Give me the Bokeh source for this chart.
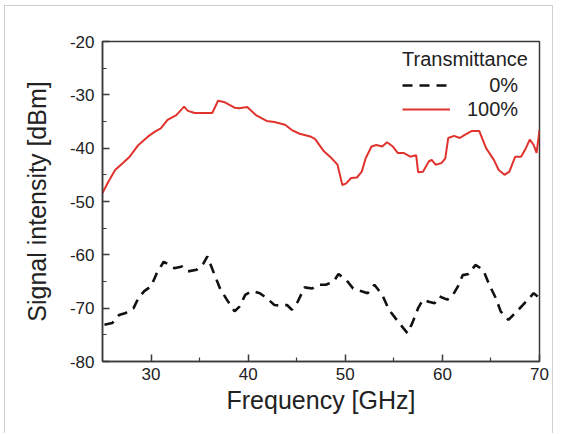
from bokeh.plotting import figure
from bokeh.models import Range1d, FixedTicker, Legend, LegendItem, PrintfTickFormatter
from bokeh.embed import file_html
from bokeh.resources import INLINE

# 100% transmittance (red, solid)
freq_100 = [25.0, 25.6, 26.3, 27.1, 27.8, 28.7, 29.7, 30.4, 31.0, 31.7, 32.6, 33.4, 33.8,
            34.5, 35.2, 36.3, 36.9, 37.6, 38.6, 39.1, 39.9, 40.8, 41.9, 42.7, 43.8, 44.5,
            45.3, 46.4, 46.9, 47.8, 48.6, 49.2, 49.7, 50.1, 50.6, 51.2, 51.7, 52.1, 52.7,
            53.2, 53.8, 54.3, 54.9, 55.4, 56.0, 56.7, 57.3, 57.5, 58.0, 58.6, 58.9, 59.3,
            59.9, 60.3, 60.6, 61.2, 61.8, 62.3, 63.0, 63.8, 64.5, 65.3, 65.8, 66.4, 66.9,
            67.5, 68.1, 68.6, 69.0, 69.4, 69.7, 70.0]
sig_100 = [-48.4, -46.3, -44.1, -42.8, -41.6, -39.4, -37.8, -36.9, -36.3, -34.7, -33.8, -32.2, -33.0,
           -33.4, -33.4, -33.4, -31.1, -31.4, -32.4, -32.5, -32.3, -33.8, -34.9, -35.1, -35.6, -36.6,
           -37.3, -37.8, -38.3, -40.6, -41.9, -43.1, -46.9, -46.6, -45.6, -45.5, -44.4, -41.9, -39.7,
           -39.4, -39.7, -38.9, -39.7, -40.9, -40.9, -41.6, -41.3, -44.5, -44.4, -42.5, -42.2, -43.1,
           -42.8, -41.9, -38.1, -37.7, -38.1, -37.5, -36.8, -36.8, -40.0, -42.2, -44.1, -45.0, -44.4,
           -41.6, -41.6, -40.0, -38.4, -39.4, -40.9, -36.6]

# 0% transmittance (black, dashed)
freq_0 = [25.2, 26.0, 26.7, 27.4, 28.2, 28.7, 29.3, 30.0, 30.6, 31.3, 31.9, 32.4, 33.2, 33.8,
          34.7, 35.4, 35.8, 36.4, 37.1, 37.8, 38.6, 39.1, 39.7, 40.4, 41.2, 41.9, 42.7, 43.2,
          44.0, 44.5, 45.1, 45.8, 46.6, 47.3, 48.0, 48.8, 49.3, 50.1, 50.8, 51.6, 52.3, 53.0,
          53.8, 54.5, 55.3, 56.0, 56.4, 56.9, 57.5, 58.0, 58.6, 59.2, 59.7, 60.5, 61.0, 61.6,
          62.1, 62.7, 63.4, 64.2, 64.9, 65.5, 66.0, 66.8, 67.5, 68.3, 68.8, 69.4, 70.0]
sig_0 = [-73.1, -72.8, -71.3, -70.9, -70.0, -68.1, -66.8, -65.9, -63.4, -61.3, -61.9, -62.5, -62.2, -63.1,
         -62.8, -61.6, -60.3, -63.1, -66.3, -68.4, -70.6, -69.7, -67.5, -66.8, -67.2, -68.1, -69.4, -69.5,
         -69.4, -70.3, -68.8, -66.1, -66.3, -65.6, -65.6, -65.0, -63.6, -64.7, -66.3, -66.8, -67.2, -65.6,
         -67.5, -70.3, -72.2, -73.8, -74.7, -72.8, -70.0, -68.4, -68.8, -69.1, -67.8, -68.4, -67.8, -65.9,
         -63.8, -63.6, -61.9, -62.8, -65.9, -68.1, -70.6, -72.2, -70.9, -69.4, -68.4, -67.2, -68.1]

x_major = [30, 40, 50, 60, 70]
x_minor = [35, 45, 55, 65]
y_major = [-80, -70, -60, -50, -40, -30, -20]
y_minor = [-75, -65, -55, -45, -35, -25]

FONT = "Liberation Sans"
AXC = "#3a3a3a"

p = figure(width=549, height=428, output_backend="svg", toolbar_location=None,
           x_range=Range1d(25, 70), y_range=Range1d(-80, -20),
           min_border_left=97, min_border_right=15, min_border_top=35, min_border_bottom=73)
p.styles = {"margin-left": "4px", "margin-top": "5px",
            "border-top": "1px solid #d0d0d0", "border-left": "1px solid #d0d0d0",
            "border-right": "1px solid #d0d0d0"}
p.grid.visible = False
p.outline_line_color = AXC
p.outline_line_width = 1.5
p.background_fill_color = "white"
p.border_fill_color = "white"

for ax in (p.xaxis[0], p.yaxis[0]):
    ax.axis_line_color = AXC
    ax.axis_line_width = 1.5
    ax.major_tick_line_color = AXC
    ax.minor_tick_line_color = AXC
    ax.major_tick_line_width = 1.5
    ax.minor_tick_line_width = 1.2
    ax.major_tick_in = 7
    ax.major_tick_out = 0
    ax.minor_tick_in = 4
    ax.minor_tick_out = 0
    ax.major_label_text_font = FONT
    ax.major_label_text_font_size = "17px"
    ax.major_label_text_color = "#222222"
    ax.axis_label_text_font = FONT
    ax.axis_label_text_font_size = "25px"
    ax.axis_label_text_font_style = "normal"
    ax.axis_label_text_color = "#222222"
    ax.formatter = PrintfTickFormatter(format="%d")

p.xaxis.ticker = FixedTicker(ticks=x_major, minor_ticks=x_minor)
p.yaxis.ticker = FixedTicker(ticks=y_major, minor_ticks=y_minor)
p.xaxis.axis_label = "Frequency [GHz]"
p.yaxis.axis_label = "Signal intensity [dBm]"
p.xaxis.major_label_standoff = 6
p.yaxis.major_label_standoff = 8
p.xaxis.axis_label_standoff = 3
p.yaxis.axis_label_standoff = 16

r0 = p.line(freq_0, sig_0, line_color="#111111", line_width=2.6, line_dash="10 7")
r1 = p.line(freq_100, sig_100, line_color="#e0332e", line_width=2)

legend = Legend(items=[LegendItem(label="\u2007\u20070%", renderers=[r0]),
                       LegendItem(label="100%", renderers=[r1])],
                title="Transmittance", location=(295, 235),
                background_fill_alpha=0, border_line_alpha=0,
                padding=5, margin=0, spacing=0, title_standoff=2,
                label_height=24, glyph_height=24, glyph_width=48, label_standoff=17,
                label_text_font=FONT, label_text_font_size="20px",
                title_text_font=FONT, title_text_font_size="20px",
                title_text_font_style="normal", label_text_color="#222222",
                title_text_color="#222222")
p.add_layout(legend)

open("out.html", "w").write(file_html(p, INLINE))
